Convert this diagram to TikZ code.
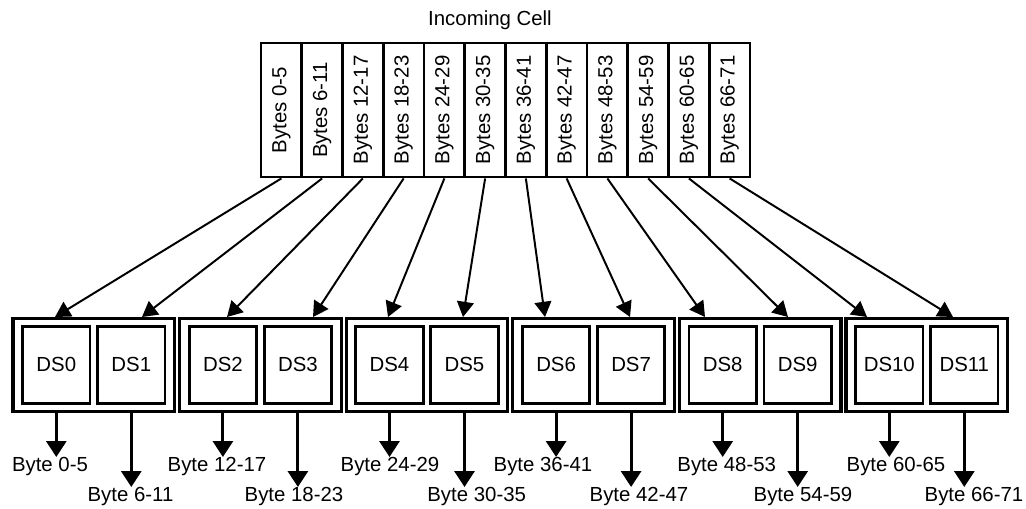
\documentclass[tikz,border=0pt]{standalone}
\usepackage{fontspec}
\setmainfont{Liberation Sans}
\usetikzlibrary{arrows.meta}

\begin{document}
\begin{tikzpicture}[x=.025cm,y=-.025cm,
      celltext/.style={font=\fontsize{14.5}{17}\selectfont},
      cellcol/.style={draw, line width=2pt, minimum width=1.019cm,
        minimum height=3.35cm, inner sep=0pt, celltext},
      dsgroup/.style={draw, line width=2.3pt, minimum width=4.04cm,
        minimum height=2.325cm, inner sep=0pt},
      dsbox/.style={draw, line width=2pt, minimum width=1.683cm,
        minimum height=1.925cm, inner sep=0pt, celltext},
      bytetext/.style={celltext, inner sep=0pt, anchor=north},
      feed/.style={line width=1.4pt, -{Triangle[width=.42cm,length=.38cm]}},
      drain/.style={line width=2.2pt, -{Triangle[width=.5cm,length=.4cm]}}]
      \useasboundingbox (0,0) rectangle (1026,508);

      \node[celltext] (title) at (490,20) {Incoming Cell};
      \foreach[count=\i from 0] \t in {0-5,6-11,12-17,18-23,24-29,30-35,
          36-41,42-47,48-53,54-59,60-65,66-71}{
        \node[cellcol] (c\i) at ({261+40.75*(\i+.5)},110)
          {\rotatebox{90}{Bytes \t}};}

      \foreach \g in {0,...,5}{
        \node[dsgroup] (g\g) at ({93.8+166.6*\g},364.7) {};}
      \foreach \i in {0,...,11}{
        \pgfmathtruncatemacro\g{\i/2}
        \pgfmathsetmacro\dx{13.3+166.6*\g+43+75*mod(\i,2)}
        \node[dsbox] (ds\i) at (\dx,364.7) {DS\i};}

      % cell slices to the buffers
      \foreach[count=\i from 0] \x in {55,142,227,313,388,463,545,630,705,
          788,867,953}{
        \coordinate (t\i) at (\x,317);
        \draw[feed] (c\i.south) -- (t\i);}

      % buffers out
      \foreach[count=\i from 0] \t/\x in {0-5/50,6-11/130.5,12-17/217,
          18-23/294,24-29/390,30-35/476.7,36-41/543,42-47/639,48-53/726.7,
          54-59/803,60-65/896,66-71/974}{
        \pgfmathtruncatemacro\g{\i/2}
        \pgfmathsetmacro\y{ifthenelse(mod(\i,2)==0,457,487)}
        \node[bytetext] (b\i) at (\x,\y) {Byte \t};
        \draw[drain] (ds\i.south |- g\g.south) -- (ds\i.south |- b\i.north);}
    \end{tikzpicture}
\end{document}
